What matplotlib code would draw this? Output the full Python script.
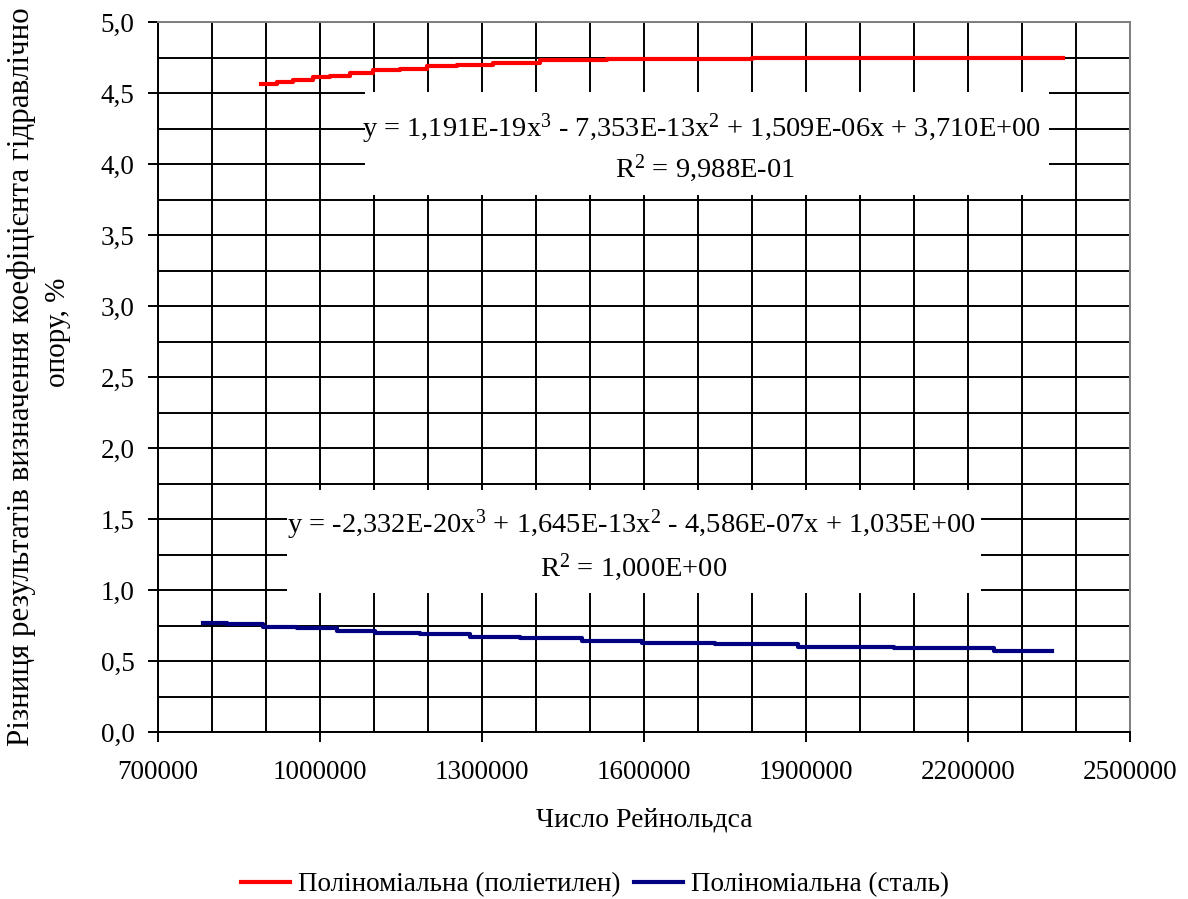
import matplotlib
matplotlib.use("Agg")
import matplotlib.pyplot as plt
from matplotlib.lines import Line2D
from matplotlib.patches import Rectangle
from matplotlib.ticker import MultipleLocator, FixedLocator, FuncFormatter

plt.rcParams['font.family'] = ['Liberation Serif', 'DejaVu Serif']
plt.rcParams['mathtext.default'] = 'regular'
plt.rcParams['font.size'] = 20.5

# trendline for polyethylene
pe_re = [891000, 920000, 950000, 987000, 1018500, 1055600, 1098000, 1148000,
         1198000, 1254000, 1320000, 1407000, 1531000, 1800000, 2375000]
pe_diff = [4.56, 4.58, 4.59, 4.61, 4.62, 4.64, 4.66, 4.67,
           4.69, 4.70, 4.71, 4.73, 4.74, 4.75, 4.75]

# trendline for steel
st_re = [784000, 827000, 895000, 957000, 1031000, 1102000, 1185000, 1278000,
         1370000, 1485000, 1597000, 1731500, 1885000, 2063000, 2248000, 2356000]
st_diff = [0.77, 0.76, 0.74, 0.73, 0.71, 0.70, 0.69, 0.67,
           0.66, 0.64, 0.63, 0.62, 0.60, 0.59, 0.57, 0.57]

x_ticks = [700000, 1000000, 1300000, 1600000, 1900000, 2200000, 2500000]

pe_eq = "y = 1,191E-19x$^{3}$ - 7,353E-13x$^{2}$ + 1,509E-06x + 3,710E+00"
pe_r2 = "R$^{2}$ = 9,988E-01"
st_eq = "y = -2,332E-20x$^{3}$ + 1,645E-13x$^{2}$ - 4,586E-07x + 1,035E+00"
st_r2 = "R$^{2}$ = 1,000E+00"

legend_labels = ["Поліноміальна (поліетилен)", "Поліноміальна (сталь)"]
xlabel = "Число Рейнольдса"
# the first line runs off the top of the original figure
ylabel_1 = "Різниця результатів визначення коефіцієнта гідравлічно"
ylabel_2 = "опору, %"

W, H = 1188, 899
fig = plt.figure(figsize=(W / 100, H / 100), dpi=100)
ax = fig.add_axes([158 / W, 1 - 732 / H, 972 / W, 710 / H])

ax.set_xlim(700000, 2500000)
ax.set_ylim(0, 5)
ax.xaxis.set_major_locator(FixedLocator(x_ticks))
ax.xaxis.set_minor_locator(MultipleLocator(100000))
ax.yaxis.set_major_locator(MultipleLocator(0.5))
ax.yaxis.set_minor_locator(MultipleLocator(0.25))
ax.xaxis.set_major_formatter(FuncFormatter(lambda v, p: "%d" % v))
ax.yaxis.set_major_formatter(FuncFormatter(lambda v, p: ("%.1f" % v).replace('.', ',')))

ax.tick_params(which='major', direction='out', length=7, width=1.4, color='black',
               labelsize=19.5)
ax.tick_params(axis='x', which='major', pad=13)
ax.tick_params(axis='y', which='major', pad=10)
ax.tick_params(which='minor', length=0)

ax.set_axisbelow(True)
ax.grid(True, which='both', color='black', linewidth=1.4)

for side in ['left', 'bottom']:
    ax.spines[side].set_color('black')
    ax.spines[side].set_linewidth(1.4)
for side in ['top', 'right']:
    ax.spines[side].set_color('#808080')
    ax.spines[side].set_linewidth(1.4)

# white label backgrounds for the trendline equations
ax.add_patch(Rectangle((0.213, 0.756), 0.704, 0.145, transform=ax.transAxes,
                       facecolor='white', edgecolor='none', zorder=1))
ax.add_patch(Rectangle((0.1327, 0.196), 0.714, 0.145, transform=ax.transAxes,
                       facecolor='white', edgecolor='none', zorder=1))

ax.plot(pe_re, pe_diff, drawstyle='steps-post', color='#FF0000', lw=3, zorder=2)
ax.plot(st_re, st_diff, drawstyle='steps-post', color='#000080', lw=3, zorder=2)

ax.text(1706000, 4.25, pe_eq, ha='center', va='center', zorder=3)
ax.text(1712000, 3.97, pe_r2, ha='center', va='center', zorder=3)
ax.text(1576000, 1.46, st_eq, ha='center', va='center', zorder=3)
ax.text(1580000, 1.16, st_r2, ha='center', va='center', zorder=3)

fig.text(644 / W, 1 - 820 / H, xlabel, ha='center', va='center', fontsize=20)
fig.text(21 / W, 1 - 746 / H, ylabel_1, rotation=90, rotation_mode='anchor',
         ha='left', va='center', fontsize=22.3)
fig.text(58 / W, 1 - 332 / H, ylabel_2, rotation=90, ha='center', va='center',
         fontsize=21)

handles = [Line2D([], [], color='#FF0000', lw=3), Line2D([], [], color='#000080', lw=3)]
fig.legend(handles, legend_labels, loc='center', bbox_to_anchor=(595 / W, 1 - 885 / H),
           ncol=2, frameon=False, fontsize=19.5, handlelength=1.8, handletextpad=0.3,
           columnspacing=0.5)

fig.savefig("out.png", dpi=100)
